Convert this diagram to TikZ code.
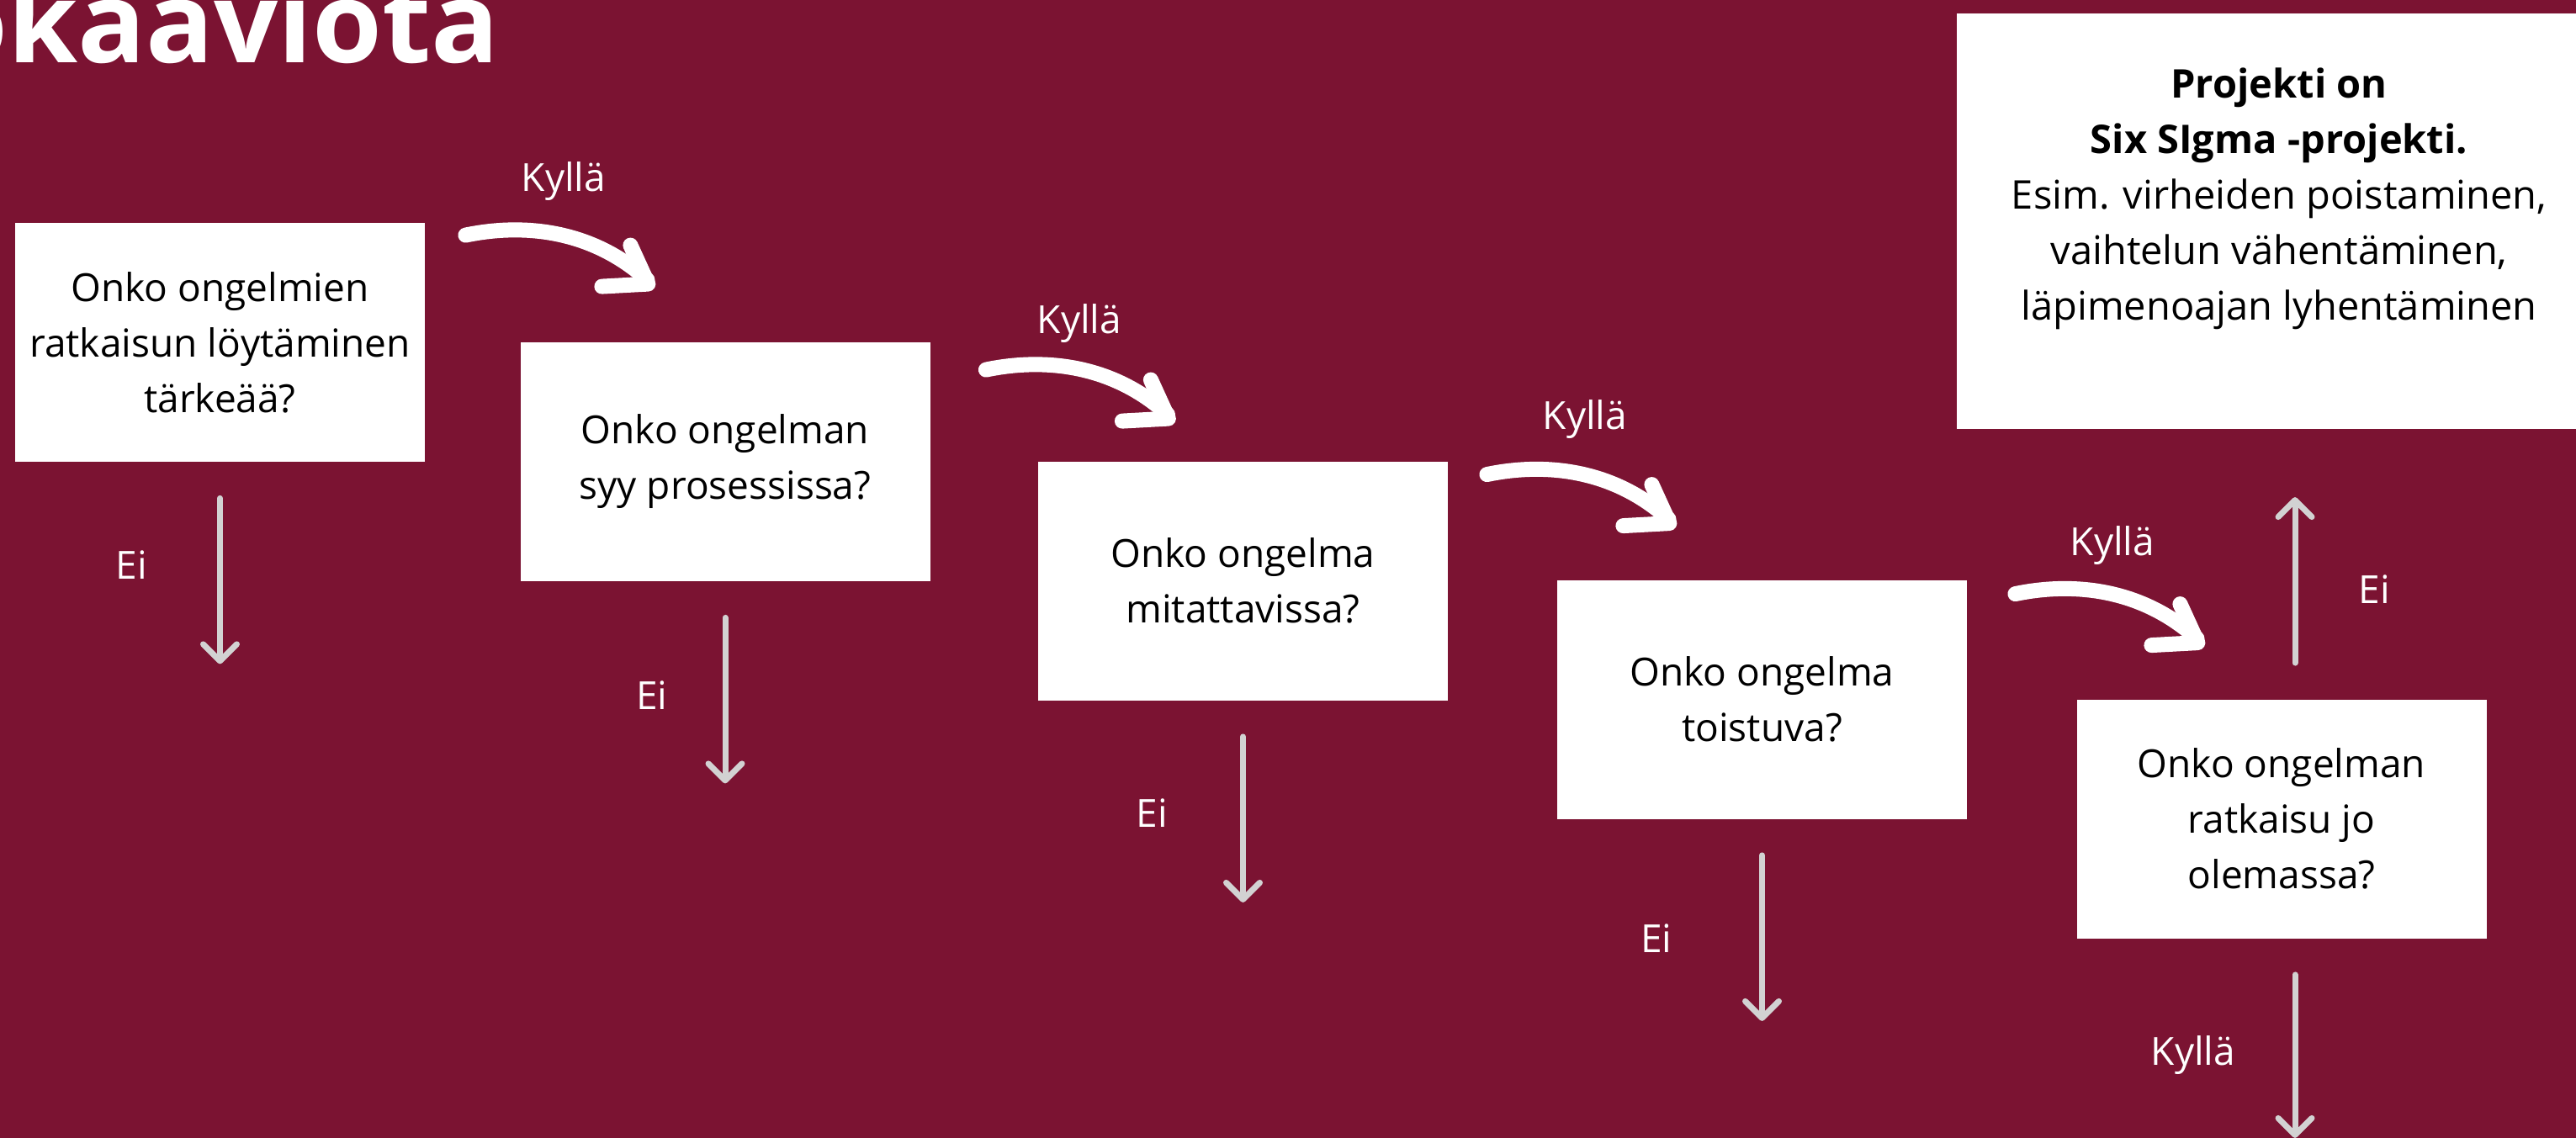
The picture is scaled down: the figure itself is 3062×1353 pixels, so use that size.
\documentclass[tikz,border=0pt]{standalone}
\usepackage{fontspec}
\setmainfont{Open Sans}
\usetikzlibrary{arrows.meta,calc}

\definecolor{wine}{RGB}{123,19,50}
\definecolor{paleg}{RGB}{210,210,210}

% white hand drawn "Kyllä" arrow: node, tail offset from its north east corner
\newcommand{\yesarrow}[3]{%
  \draw[swoosh] ([shift={(#2,#3)}]#1.north east)
     .. controls ([shift={(#2+72,#3-15)}]#1.north east) and ([shift={(#2+152,#3-5)}]#1.north east)
     .. ([shift={(#2+216,#3+53)}]#1.north east);
  \draw[swoosh] ([shift={(#2+196,#3+12)}]#1.north east) -- ([shift={(#2+217,#3+58)}]#1.north east)
     -- ([shift={(#2+162,#3+61)}]#1.north east);
}

\begin{document}
\begin{tikzpicture}[x=0.5pt, y=-0.5pt,
    box/.style={fill=white, text=black, inner sep=0pt, minimum width=243.5pt,
        minimum height=142pt, align=center, font=\fontsize{23pt}{33pt}\selectfont},
    lbl/.style={text=white, anchor=base, inner sep=0pt, font=\fontsize{23pt}{28pt}\selectfont},
    swoosh/.style={white, line width=9pt, line cap=round, line join=round},
    grayarrow/.style={draw=paleg, line width=3.5pt, line cap=round,
        -{Straight Barb[length=10pt, width=20pt, round]}}]

\useasboundingbox (0,0) rectangle (3062,1353);
\clip (0,0) rectangle (3062,1353);
\fill[wine] (0,0) rectangle (3062,1353);

% title, cut by the top and left edges
\node[anchor=base east, inner sep=0pt, text=white,
      font=\fontsize{67pt}{75pt}\selectfont\bfseries] (ttl) at (594,75) {okaaviota};

% question boxes
\node[box] (b1) at (261.5,407)  {Onko ongelmien\\ratkaisun löytäminen\\tärkeää?};
\node[box] (b2) at (862,549)    {Onko ongelman\\syy prosessissa?};
\node[box] (b3) at (1477.5,690.5) {Onko ongelma\\mitattavissa?};
\node[box] (b4) at (2094.5,831.5) {Onko ongelma\\toistuva?};
\node[box] (b5) at (2712,973.5) {Onko ongelman\\ratkaisu jo\\olemassa?};

% result box, runs over the right edge
\node[fill=white, inner sep=0pt, minimum width=383pt, minimum height=247pt] (b6) at (2709,263) {};
\node[text=black, align=center, inner sep=0pt,
      font=\fontsize{23.5pt}{33pt}\selectfont] (b6t) at (2709,236)
      {\textbf{Projekti on}\\\textbf{Six SIgma -projekti.}\\Esim. virheiden poistaminen,\\vaihtelun vähentäminen,\\läpimenoajan lyhentäminen};

% yes arrows
\yesarrow{b1}{48}{15}
\yesarrow{b2}{66}{33}
\yesarrow{b3}{46}{16}
\yesarrow{b4}{57}{17}

\node[lbl] (ky1) at (670,228)   {Kyllä};
\node[lbl] (ky2) at (1283,397)  {Kyllä};
\node[lbl] (ky3) at (1884,510)  {Kyllä};
\node[lbl] (ky4) at (2511,660)  {Kyllä};
\node[lbl] (ky5) at (2607,1266) {Kyllä};

% no arrows
\draw[grayarrow] ($(b1.south)+(0,43)$) -- ($(b1.south)+(0,240)$);
\draw[grayarrow] ($(b2.south)+(0,43)$) -- ($(b2.south)+(0,240)$);
\draw[grayarrow] ($(b3.south)+(0,43)$) -- ($(b3.south)+(0,240)$);
\draw[grayarrow] ($(b4.south)+(0,43)$) -- ($(b4.south)+(0,240)$);
\draw[grayarrow] ($(b5.north)+(16,-43)$) -- ($(b5.north)+(16,-240)$);
\draw[grayarrow] ($(b5.south)+(16,43)$) -- ($(b5.south)+(16,237)$);

\node[lbl] (ei1) at (156.5,688) {Ei};
\node[lbl] (ei2) at (775,843)   {Ei};
\node[lbl] (ei3) at (1369.5,983) {Ei};
\node[lbl] (ei4) at (1969,1132) {Ei};
\node[lbl] (ei5) at (2822.5,717) {Ei};

\end{tikzpicture}
\end{document}
